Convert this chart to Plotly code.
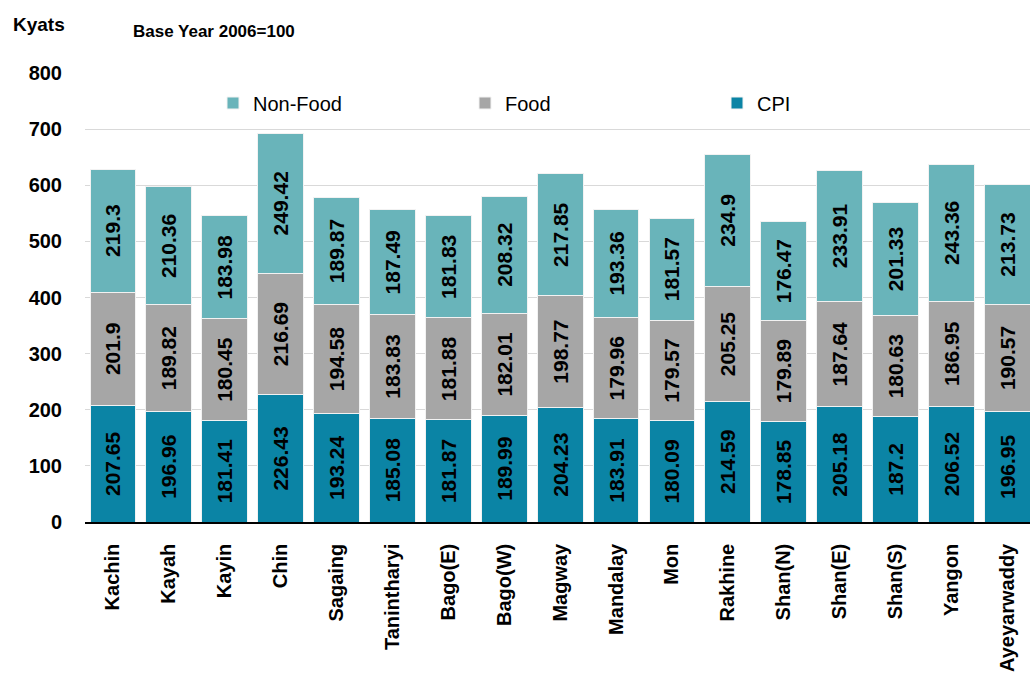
import plotly.graph_objects as go

regions = ["Kachin", "Kayah", "Kayin", "Chin", "Sagaing", "Tanintharyi", "Bago(E)",
           "Bago(W)", "Magway", "Mandalay", "Mon", "Rakhine", "Shan(N)", "Shan(E)",
           "Shan(S)", "Yangon", "Ayeyarwaddy"]
cpi = [207.65, 196.96, 181.41, 226.43, 193.24, 185.08, 181.87, 189.99, 204.23,
       183.91, 180.09, 214.59, 178.85, 205.18, 187.2, 206.52, 196.95]
food = [201.9, 189.82, 180.45, 216.69, 194.58, 183.83, 181.88, 182.01, 198.77,
        179.96, 179.57, 205.25, 179.89, 187.64, 180.63, 186.95, 190.57]
non_food = [219.3, 210.36, 183.98, 249.42, 189.87, 187.49, 181.83, 208.32, 217.85,
            193.36, 181.57, 234.9, 176.47, 233.91, 201.33, 243.36, 213.73]
y_ticks = [0, 100, 200, 300, 400, 500, 600, 700, 800]

FONT = "Liberation Sans, Arial, sans-serif"
L, R, T, B = 85, 0, 73, 151
W, H = 1030, 673
PW, PH = W - L - R, H - T - B


def px_x(px):
    return (px - L) / PW


def px_y(py):
    return (H - B - py) / PH


fig = go.Figure()
for name, vals, color in [("CPI", cpi, "#0b84a5"),
                          ("Food", food, "#a6a6a6"),
                          ("Non-Food", non_food, "#69b4ba")]:
    fig.add_trace(go.Bar(
        name=name, x=regions, y=vals,
        marker=dict(color=color, line=dict(color="#f2f2f2", width=1)),
        text=[f"{v:g}" for v in vals],
        textposition="inside", insidetextanchor="middle", textangle=-90,
        constraintext="none",
        textfont=dict(family=FONT, size=21, color="black", weight="bold"),
    ))

fig.update_layout(
    barmode="stack", bargap=0.18,
    width=W, height=H,
    margin=dict(l=L, r=R, t=T, b=B, autoexpand=False),
    paper_bgcolor="white", plot_bgcolor="white",
    font=dict(family=FONT, color="black"),
    legend=dict(orientation="h", traceorder="reversed",
                x=px_x(213), y=px_y(103), xanchor="left", yanchor="middle",
                font=dict(family=FONT, size=20, color="black"),
                entrywidth=207, entrywidthmode="pixels",
                bgcolor="rgba(0,0,0,0)"),
    xaxis=dict(range=[-0.5, 16.405], tickangle=-90, showgrid=False,
               showline=True, linecolor="black", linewidth=1.5,
               ticks="", ticklabelstandoff=12,
               tickfont=dict(family=FONT, size=20, color="black", weight="bold")),
    yaxis=dict(range=[0, 800], tickvals=y_ticks, showgrid=True,
               gridcolor="#d9d9d9", gridwidth=1, zeroline=False,
               showline=False, ticks="", ticklabelstandoff=22,
               tickfont=dict(family=FONT, size=20, color="black", weight="bold")),
    annotations=[
        dict(text="Kyats", xref="paper", yref="paper", x=px_x(11), y=px_y(25),
             xanchor="left", yanchor="middle", showarrow=False,
             font=dict(family=FONT, size=19, color="black", weight="bold")),
        dict(text="Base Year 2006=100", xref="paper", yref="paper",
             x=px_x(131), y=px_y(31), xanchor="left", yanchor="middle",
             showarrow=False,
             font=dict(family=FONT, size=17, color="black", weight="bold")),
    ],
)

fig.write_html("out.html")
